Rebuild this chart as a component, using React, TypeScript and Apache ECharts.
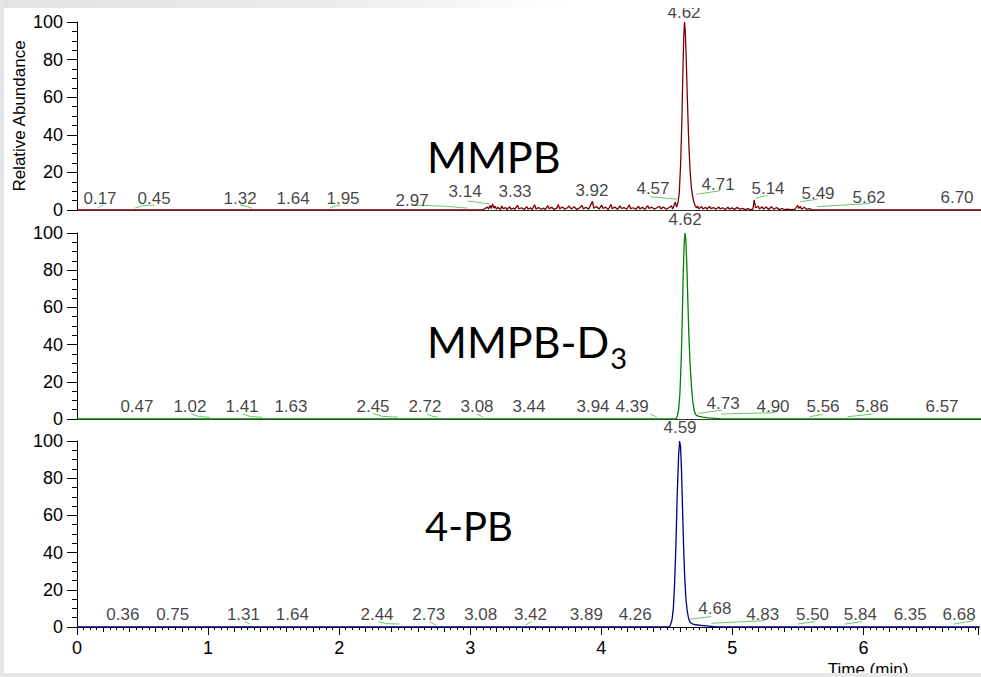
import React, { useEffect, useRef } from "react";
import * as echarts from "echarts";

// ---------- axis extent (time, min) ----------
const X_MIN = 0;
const X_MAX = 6.8745;

// ---------- chromatogram traces: [time (min), relative abundance %] ----------
const mmpbTrace: number[][] = [
  [0, 0], [3.08, 0], [3.10, 0.6], [3.12, 1.6], [3.13, 0.5], [3.14, 2.4], [3.15, 0.8], [3.16, 3.2], [3.17, 1.0],
  [3.18, 2.0], [3.19, 0.4], [3.20, 1.4], [3.22, 0.3], [3.23, 2.2], [3.24, 0.7], [3.26, 1.3], [3.27, 0.2],
  [3.29, 1.7], [3.30, 0.5], [3.32, 1.0], [3.33, 0.3], [3.35, 2.5], [3.36, 0.6], [3.38, 1.2], [3.40, 0.3],
  [3.42, 1.8], [3.43, 0.5], [3.45, 1.1], [3.46, 0.2], [3.48, 2.8], [3.49, 0.6], [3.51, 1.3], [3.53, 0.4],
  [3.55, 1.0], [3.56, 0.2], [3.58, 2.3], [3.59, 0.7], [3.61, 1.4], [3.63, 0.3], [3.65, 1.1], [3.66, 3.0],
  [3.67, 0.6], [3.69, 1.6], [3.71, 0.4], [3.73, 1.2], [3.74, 2.1], [3.76, 0.5], [3.78, 1.7], [3.80, 0.3],
  [3.82, 1.0], [3.84, 2.4], [3.85, 0.6], [3.87, 1.5], [3.89, 0.4], [3.90, 1.8], [3.92, 4.6], [3.93, 0.9],
  [3.95, 1.9], [3.97, 0.5], [3.99, 2.6], [4.00, 0.8], [4.02, 1.5], [4.04, 0.3], [4.06, 2.9], [4.07, 0.7],
  [4.09, 1.6], [4.11, 0.4], [4.13, 2.2], [4.14, 0.8], [4.16, 1.3], [4.18, 0.4], [4.20, 2.7], [4.21, 0.7],
  [4.23, 1.2], [4.25, 0.4], [4.27, 2.0], [4.28, 0.6], [4.30, 1.4], [4.32, 0.3], [4.34, 2.3], [4.35, 0.8],
  [4.37, 1.5], [4.39, 0.5], [4.41, 1.2], [4.43, 2.0], [4.44, 0.6], [4.46, 1.6], [4.48, 0.4], [4.50, 1.1],
  [4.52, 2.2], [4.53, 0.5], [4.55, 4.2], [4.56, 1.5], [4.57, 4], [4.58, 9], [4.59, 24], [4.60, 48],
  [4.607, 72], [4.614, 92], [4.62, 100], [4.626, 95], [4.633, 80], [4.642, 58], [4.652, 36], [4.662, 21],
  [4.672, 12], [4.682, 7], [4.692, 4], [4.70, 2.5], [4.71, 1.2], [4.72, 2.0], [4.73, 0.6], [4.75, 1.8],
  [4.76, 0.5], [4.78, 1.5], [4.79, 0.4], [4.81, 1.9], [4.82, 0.7], [4.84, 1.3], [4.86, 0.4], [4.88, 1.6],
  [4.89, 0.6], [4.91, 1.2], [4.93, 0.3], [4.95, 1.5], [4.96, 0.5], [4.98, 1.1], [5.00, 0.3], [5.02, 1.4],
  [5.04, 0.4], [5.06, 0.9], [5.08, 0.2], [5.10, 0.7], [5.12, 0.2], [5.14, 0.4], [5.15, 5.4], [5.16, 1.2],
  [5.18, 2.0], [5.19, 0.5], [5.21, 1.8], [5.22, 0.4], [5.24, 1.6], [5.26, 0.3], [5.28, 1.7], [5.30, 0.4],
  [5.32, 1.3], [5.34, 0.2], [5.36, 0.8], [5.38, 0.2], [5.40, 0.5], [5.43, 0.2], [5.46, 0.4], [5.48, 2.4],
  [5.49, 0.8], [5.50, 2.0], [5.51, 0.4], [5.53, 1.5], [5.55, 0.3], [5.57, 0.7], [5.59, 0.1], [5.62, 0],
  [6.9, 0],
];

const mmpbD3Trace: number[][] = [
  [0, 0], [4.555, 0], [4.565, 1.5], [4.575, 5], [4.585, 14], [4.595, 32], [4.603, 55], [4.61, 78],
  [4.617, 94], [4.624, 100], [4.63, 96], [4.637, 84], [4.645, 64], [4.653, 45], [4.662, 30], [4.672, 18],
  [4.682, 10], [4.692, 5], [4.70, 3], [4.71, 2], [4.73, 1.4], [4.76, 1.0], [4.80, 0.6], [4.85, 0.3],
  [4.90, 0], [6.9, 0],
];

const pbTrace: number[][] = [
  [0, 0], [4.52, 0], [4.53, 1.5], [4.54, 4], [4.55, 10], [4.56, 24], [4.57, 45], [4.58, 72], [4.59, 92],
  [4.598, 100], [4.605, 97], [4.612, 85], [4.62, 64], [4.628, 44], [4.636, 28], [4.645, 16], [4.655, 9],
  [4.665, 5], [4.675, 2.8], [4.69, 1.8], [4.72, 1.2], [4.76, 0.9], [4.80, 0.6], [4.84, 0.3], [4.88, 0],
  [6.9, 0],
];

// ---------- integration baselines (green) ----------
const mmpbBaselines: number[][][] = [
  [[0.16, 1.0], [0.18, 2.0], [0.20, 2.7]],
  [[0.44, 1.0], [0.50, 2.3], [0.59, 2.7]],
  [[1.24, 2.7], [1.29, 2.0], [1.33, 0.9]],
  [[1.92, 1.0], [1.96, 2.0], [2.00, 2.7]],
  [[2.57, 2.6], [2.80, 2.0], [2.97, 1.0]],
  [[2.97, 4.8], [3.14, 3.2]],
  [[4.36, 7.0], [4.56, 5.8]],
  [[4.71, 8.4], [4.89, 10.2]],
  [[5.16, 6.2], [5.25, 7.8]],
  [[5.50, 4.4], [5.63, 5.7]],
  [[5.63, 1.8], [6.03, 3.5]],
];
const mmpbD3Baselines: number[][][] = [
  [[0.87, 2.7], [0.93, 1.3], [1.01, 0.9]],
  [[1.26, 2.7], [1.32, 1.3], [1.41, 0.9]],
  [[2.25, 3.0], [2.32, 1.4], [2.44, 1.0]],
  [[2.66, 2.7], [2.70, 1.5], [2.74, 1.0]],
  [[3.04, 2.7], [3.09, 1.0]],
  [[4.36, 2.7], [4.41, 1.0]],
  [[4.72, 3.0], [4.91, 4.8]],
  [[4.90, 2.7], [5.31, 3.4]],
  [[5.57, 1.2], [5.67, 2.5]],
  [[5.86, 1.2], [6.05, 2.7]],
];
const pbBaselines: number[][][] = [
  [[1.28, 2.9], [1.32, 1.6]],
  [[2.30, 2.9], [2.36, 1.8], [2.46, 1.6]],
  [[2.69, 2.9], [2.74, 1.0]],
  [[3.42, 1.0], [3.47, 2.9]],
  [[4.68, 4.3], [4.84, 5.6]],
  [[4.84, 2.0], [5.25, 3.4]],
  [[5.50, 1.6], [5.63, 2.9]],
  [[5.86, 1.6], [5.99, 2.9]],
  [[6.69, 1.6], [6.84, 3.4]],
];

// ---------- peak retention-time annotations ----------
const mmpbRT = ["0.17", "0.45", "1.32", "1.64", "1.95", "2.97", "3.14", "3.33", "3.92", "4.57", "4.62", "4.71", "5.14", "5.49", "5.62", "6.70"];
const mmpbRTx = [0.175, 0.586, 1.24, 1.643, 2.023, 2.548, 2.951, 3.331, 3.916, 4.38, 4.616, 4.875, 5.255, 5.635, 6.023, 6.692];
const mmpbRTy = [5.9, 5.9, 5.9, 5.9, 5.9, 5.3, 9.6, 10.1, 10.6, 11.2, 105.3, 13.3, 11.7, 9.0, 6.9, 6.9];

const mmpbD3RT = ["0.47", "1.02", "1.41", "1.63", "2.45", "2.72", "3.08", "3.44", "3.94", "4.39", "4.62", "4.73", "4.90", "5.56", "5.86", "6.57"];
const mmpbD3RTx = [0.456, 0.859, 1.255, 1.627, 2.251, 2.646, 3.042, 3.437, 3.924, 4.221, 4.624, 4.913, 5.293, 5.673, 6.046, 6.578];
const mmpbD3RTy = [6.5, 6.5, 6.5, 6.5, 6.5, 6.5, 6.5, 6.5, 6.5, 6.5, 107, 8.6, 6.5, 6.5, 6.5, 6.5];

const pbRT = ["0.36", "0.75", "1.31", "1.64", "2.44", "2.73", "3.08", "3.42", "3.89", "4.26", "4.59", "4.68", "4.83", "5.50", "5.84", "6.35", "6.68"];
const pbRTx = [0.35, 0.73, 1.27, 1.643, 2.289, 2.684, 3.08, 3.46, 3.886, 4.259, 4.601, 4.867, 5.232, 5.612, 5.977, 6.357, 6.73];
const pbRTy = [6.5, 6.5, 6.5, 6.5, 6.5, 6.5, 6.5, 6.5, 6.5, 6.5, 107, 10.2, 6.5, 6.5, 6.5, 6.5, 6.5];

// ---------- axis ticks ----------
const Y_TICK_STEP = 20;
const X_MAJOR_STEP = 1;
const X_MEDIUM_STEP = 0.2;

const compounds = ["MMPB", "MMPB-D", "4-PB"];
const subscript = "3";
const xAxisTitle = "Time (min)";
const yAxisTitle = "Relative Abundance";

const ARIAL = "Liberation Sans";
const BIG_FONT = "43px Lato";

function measure(text: string, font: string): number {
  const c = document.createElement("canvas").getContext("2d");
  if (!c) return text.length * 25;
  c.font = font;
  return c.measureText(text).width;
}

export default function App() {
  const ref = useRef<HTMLDivElement>(null);

  useEffect(() => {
    if (!ref.current) return;
    const chart = echarts.init(ref.current, undefined, { renderer: "svg" });

    const grids = [
      { left: 77, right: 0, top: 22, height: 188 },
      { left: 77, right: 0, top: 233, height: 186 },
      { left: 77, right: 0, top: 441, height: 186 },
    ];

    const yAxes = grids.map((_, i) => ({
      gridIndex: i,
      type: "value",
      min: 0,
      max: 100,
      interval: Y_TICK_STEP,
      axisLine: { show: true, lineStyle: { color: "#000", width: 1 } },
      axisTick: { show: true, length: 10, lineStyle: { color: "#000", width: 1 } },
      minorTick: { show: true, splitNumber: 4, length: 5, lineStyle: { color: "#000", width: 1 } },
      splitLine: { show: false },
      minorSplitLine: { show: false },
      axisLabel: { fontSize: 18, color: "#000", fontFamily: ARIAL, margin: 14 },
    }));

    const plainX = (i: number) => ({
      gridIndex: i,
      type: "value",
      position: "bottom",
      min: X_MIN,
      max: X_MAX,
      axisLine: { show: true, onZero: false, lineStyle: { color: "#333", width: 1 } },
      axisTick: { show: false },
      axisLabel: { show: false },
      splitLine: { show: false },
    });

    const xAxes: any[] = [
      plainX(0),
      plainX(1),
      {
        gridIndex: 2,
        type: "value",
        position: "bottom",
        min: X_MIN,
        max: X_MAX,
        interval: X_MAJOR_STEP,
        axisLine: { show: true, onZero: false, lineStyle: { color: "#000", width: 1 } },
        axisTick: { show: true, length: 8, lineStyle: { color: "#000", width: 1 } },
        axisLabel: {
          fontSize: 18,
          color: "#000",
          fontFamily: ARIAL,
          margin: 12,
          formatter: (v: number) => (Math.abs(v - Math.round(v)) < 1e-6 ? String(Math.round(v)) : ""),
        },
        splitLine: { show: false },
      },
      {
        gridIndex: 2,
        type: "value",
        position: "bottom",
        min: X_MIN,
        max: X_MAX,
        interval: X_MEDIUM_STEP,
        axisLine: { show: false },
        axisTick: { show: true, length: 5, lineStyle: { color: "#000", width: 1 } },
        minorTick: { show: true, splitNumber: 4, length: 3, lineStyle: { color: "#000", width: 1 } },
        axisLabel: { show: false },
        splitLine: { show: false },
      },
    ];

    const traces = [
      { data: mmpbTrace, color: "#7a0000" },
      { data: mmpbD3Trace, color: "#008000" },
      { data: pbTrace, color: "#000080" },
    ];
    const baselines = [mmpbBaselines, mmpbD3Baselines, pbBaselines];
    const labels = [
      [mmpbRT, mmpbRTx, mmpbRTy],
      [mmpbD3RT, mmpbD3RTx, mmpbD3RTy],
      [pbRT, pbRTx, pbRTy],
    ] as [string[], number[], number[]][];

    const series: any[] = [];
    traces.forEach((t, i) => {
      series.push({
        type: "line",
        xAxisIndex: i,
        yAxisIndex: i,
        data: t.data,
        showSymbol: false,
        symbol: "none",
        lineStyle: { color: t.color, width: 1.3 },
        z: 3,
      });
    });
    baselines.forEach((b, i) => {
      series.push({
        type: "lines",
        coordinateSystem: "cartesian2d",
        xAxisIndex: i,
        yAxisIndex: i,
        polyline: true,
        data: b.map((seg) => ({ coords: seg })),
        lineStyle: { color: "#6cc66c", width: 1, opacity: 1 },
        z: 4,
      });
    });
    labels.forEach(([txt, xs, ys], i) => {
      series.push({
        type: "scatter",
        xAxisIndex: i,
        yAxisIndex: i,
        clip: false,
        symbolSize: 0,
        data: txt.map((s, k) => ({ name: s, value: [xs[k], ys[k]] })),
        label: {
          show: true,
          position: "inside",
          formatter: (p: any) => p.name,
          fontSize: 17,
          color: "#111",
          fontFamily: ARIAL,
        },
        z: 5,
      });
    });

    const subX = 427 + measure(compounds[1], BIG_FONT) + 1;

    const txt = (text: string, x: number, y: number, font: string, align: string, extra: any = {}) => ({
      type: "text",
      x,
      y,
      ...extra,
      style: { text, font, fill: "#000", align, verticalAlign: "middle", textAlign: align, textVerticalAlign: "middle" },
      z: 8,
    });

    const graphic: any[] = [
      {
        type: "rect",
        shape: { x: 0, y: 0, width: 981, height: 8 },
        style: {
          fill: new echarts.graphic.LinearGradient(0, 0, 1, 0, [
            { offset: 0, color: "#e2e2e2" },
            { offset: 0.35, color: "#ececec" },
            { offset: 0.58, color: "#ffffff" },
          ]),
        },
        z: 10,
      },
      { type: "rect", shape: { x: 0, y: 0, width: 4, height: 677 }, style: { fill: "#e6e6e6" }, z: 10 },
      txt(yAxisTitle, 19.5, 116, `17px ${ARIAL}`, "center", { rotation: Math.PI / 2 }),
      txt(compounds[0], 427, 156, BIG_FONT, "left"),
      txt(compounds[1], 427, 341, BIG_FONT, "left"),
      txt(subscript, subX, 357, "29px Lato", "left"),
      txt(compounds[2], 425, 526, "40px Lato", "left"),
      txt(xAxisTitle, 868, 669, `17px ${ARIAL}`, "center"),
      { type: "rect", shape: { x: 0, y: 673, width: 981, height: 4 }, style: { fill: "#e8e8e8" }, z: 11 },
    ];

    chart.setOption({
      animation: false,
      backgroundColor: "#ffffff",
      grid: grids,
      xAxis: xAxes,
      yAxis: yAxes,
      series,
      graphic,
    });

    return () => chart.dispose();
  }, []);

  return (
    <div
      ref={ref}
      style={{ position: "fixed", left: 0, top: 0, width: 981, height: 677, background: "#fff" }}
    />
  );
}
